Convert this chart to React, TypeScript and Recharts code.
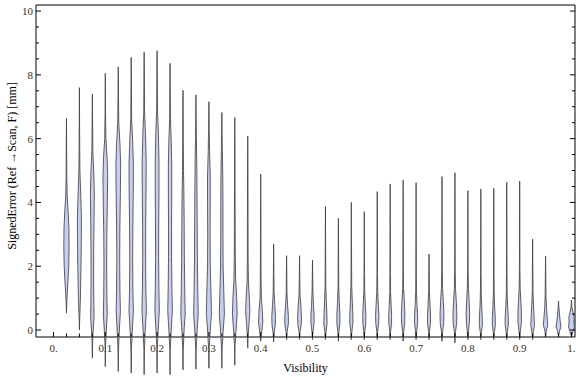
import React from 'react';
import { ComposedChart, Scatter, XAxis, YAxis } from 'recharts';

// ---- data ----
const visibility = [
  0.025, 0.05, 0.075, 0.1, 0.125, 0.15, 0.175, 0.2, 0.225, 0.25,
  0.275, 0.3, 0.325, 0.35, 0.375, 0.4, 0.425, 0.45, 0.475, 0.5,
  0.525, 0.55, 0.575, 0.6, 0.625, 0.65, 0.675, 0.7, 0.725, 0.75,
  0.775, 0.8, 0.825, 0.85, 0.875, 0.9, 0.925, 0.95, 0.975, 1.0,
];

const errorMin = [
  0.53, 0.0, -0.88, -1.15, -1.3, -1.35, -1.4, -1.35, -1.4, -1.25,
  -1.23, -1.2, -1.2, -1.1, -0.57, -0.35, -0.37, -0.3, -0.3, -0.3,
  -0.3, -0.35, -0.3, -0.3, -0.3, -0.3, -0.35, -0.3, -0.3, -0.35,
  -0.4, -0.3, -0.3, -0.3, -0.3, -0.3, -0.3, -0.2, -0.2, -0.2,
];

const errorMax = [
  6.63, 7.6, 7.4, 8.05, 8.25, 8.55, 8.72, 8.76, 8.36, 7.52,
  7.37, 7.16, 6.82, 6.66, 6.08, 4.89, 2.7, 2.33, 2.33, 2.19,
  3.87, 3.5, 4.0, 3.71, 4.34, 4.58, 4.7, 4.62, 2.38, 4.81,
  4.93, 4.37, 4.42, 4.44, 4.63, 4.67, 2.85, 2.32, 0.91, 0.94,
];

// density knots per violin: [error value, density]
const densityKnots: number[][][] = [
  [[1.0, 0.6], [1.5, 1.7], [2.0, 2.7], [2.6, 3.1], [3.2, 2.9], [3.7, 2.0], [4.2, 0.9], [4.8, 0.4], [5.6, 0.25]],
  [[0.4, 0.4], [1.0, 1.2], [2.0, 1.9], [3.0, 2.3], [3.6, 2.3], [4.3, 1.5], [5.0, 0.6], [6.0, 0.3]],
  [[-0.4, 0.3], [0, 1.0], [0.4, 2.0], [0.8, 1.8], [1.5, 1.5], [2.5, 1.6], [3.5, 2.0], [4.3, 2.3], [5.0, 1.6], [5.6, 0.6], [6.5, 0.3]],
  [[-0.5, 0.3], [0, 1.2], [0.5, 2.3], [1.0, 1.9], [2.0, 1.6], [3.0, 1.8], [4.0, 2.4], [4.8, 2.8], [5.4, 2.1], [6.0, 0.7], [6.8, 0.3]],
  [[-0.6, 0.3], [0, 1.3], [0.6, 2.5], [1.2, 2.0], [2.2, 1.7], [3.2, 1.9], [4.3, 2.5], [5.2, 2.8], [5.9, 1.9], [6.5, 0.6], [7.3, 0.3]],
  [[-0.6, 0.3], [0, 1.3], [0.6, 2.6], [1.2, 2.0], [2.2, 1.7], [3.2, 1.9], [4.3, 2.4], [5.2, 2.6], [6.0, 1.6], [6.6, 0.5], [7.5, 0.3]],
  [[-0.6, 0.3], [0, 1.3], [0.6, 2.6], [1.3, 2.0], [2.3, 1.7], [3.3, 1.8], [4.3, 2.2], [5.3, 2.4], [6.2, 1.5], [6.8, 0.5], [7.7, 0.3]],
  [[-0.6, 0.3], [0, 1.3], [0.6, 2.6], [1.3, 2.1], [2.3, 1.8], [3.3, 1.9], [4.3, 2.2], [5.3, 2.2], [6.2, 1.5], [6.9, 0.5], [7.8, 0.3]],
  [[-0.6, 0.3], [0, 1.4], [0.6, 2.7], [1.3, 2.2], [2.3, 1.8], [3.3, 1.8], [4.3, 2.0], [5.2, 2.0], [6.0, 1.3], [6.6, 0.5], [7.4, 0.3]],
  [[-0.6, 0.3], [0, 1.3], [0.5, 2.6], [1.2, 2.1], [2.2, 1.6], [3.2, 1.4], [4.2, 1.1], [5.0, 0.6], [5.8, 0.35], [6.6, 0.25]],
  [[-0.6, 0.3], [0, 1.4], [0.5, 2.7], [1.2, 2.2], [2.2, 1.7], [3.2, 1.5], [4.2, 1.3], [5.2, 1.0], [6.0, 0.5], [6.6, 0.3]],
  [[-0.6, 0.3], [0, 1.6], [0.5, 3.0], [1.1, 2.5], [2.0, 1.6], [3.0, 1.4], [4.0, 1.6], [4.8, 1.6], [5.6, 0.8], [6.3, 0.35]],
  [[-0.6, 0.3], [0, 1.6], [0.5, 3.0], [1.1, 2.4], [2.0, 1.5], [3.0, 1.3], [4.0, 1.3], [4.8, 1.1], [5.6, 0.6], [6.2, 0.3]],
  [[-0.5, 0.3], [0, 1.5], [0.5, 2.8], [1.0, 2.2], [1.6, 1.0], [2.3, 0.6], [3.2, 0.45], [4.5, 0.35], [5.5, 0.3]],
  [[-0.2, 0.4], [0.2, 1.5], [0.6, 2.5], [1.0, 1.9], [1.5, 0.8], [2.2, 0.45], [3.5, 0.35], [5.0, 0.25]],
  [[-0.1, 1.0], [0.25, 2.5], [0.6, 2.0], [1.0, 0.8], [1.6, 0.4], [3.0, 0.3]],
  [[-0.1, 0.6], [0.15, 1.9], [0.4, 2.2], [0.8, 1.3], [1.2, 0.5], [1.8, 0.3]],
  [[-0.05, 0.7], [0.2, 2.1], [0.45, 2.1], [0.8, 1.1], [1.2, 0.4], [1.7, 0.3]],
  [[-0.05, 0.6], [0.15, 1.9], [0.4, 2.3], [0.75, 1.6], [1.1, 0.6], [1.6, 0.3]],
  [[-0.05, 0.6], [0.2, 1.8], [0.45, 1.9], [0.8, 1.1], [1.2, 0.5], [1.6, 0.3]],
  [[-0.05, 0.7], [0.2, 1.9], [0.5, 1.7], [0.9, 1.0], [1.4, 0.4], [2.0, 0.3]],
  [[-0.05, 0.6], [0.2, 1.8], [0.5, 1.8], [0.9, 1.0], [1.4, 0.4], [2.0, 0.3]],
  [[-0.05, 0.6], [0.2, 1.8], [0.5, 1.8], [0.9, 1.1], [1.4, 0.45], [2.0, 0.3]],
  [[-0.05, 0.5], [0.2, 1.7], [0.45, 1.9], [0.8, 1.2], [1.2, 0.55], [1.8, 0.3]],
  [[-0.05, 0.5], [0.2, 1.7], [0.45, 2.0], [0.8, 1.3], [1.2, 0.55], [1.8, 0.3]],
  [[-0.05, 0.5], [0.2, 1.6], [0.45, 1.7], [0.8, 1.1], [1.2, 0.45], [1.8, 0.3]],
  [[-0.05, 0.6], [0.2, 1.8], [0.5, 2.1], [0.9, 1.4], [1.3, 0.55], [1.9, 0.3]],
  [[-0.05, 0.6], [0.2, 1.8], [0.45, 1.8], [0.8, 1.05], [1.2, 0.45], [1.8, 0.3]],
  [[-0.05, 0.5], [0.2, 1.7], [0.45, 1.8], [0.8, 1.1], [1.2, 0.45], [1.7, 0.3]],
  [[-0.05, 0.7], [0.2, 2.0], [0.5, 2.3], [0.9, 1.6], [1.3, 0.7], [1.9, 0.3]],
  [[-0.05, 0.7], [0.2, 2.0], [0.5, 2.3], [0.9, 1.6], [1.3, 0.7], [1.9, 0.3]],
  [[-0.05, 0.7], [0.2, 1.7], [0.5, 2.1], [0.9, 1.5], [1.3, 0.7], [1.9, 0.3]],
  [[-0.05, 0.7], [0.15, 1.8], [0.4, 1.7], [0.75, 0.95], [1.2, 0.45], [1.8, 0.3]],
  [[-0.05, 0.7], [0.15, 1.8], [0.4, 1.7], [0.75, 0.95], [1.2, 0.45], [1.8, 0.3]],
  [[-0.05, 0.7], [0.15, 1.9], [0.4, 1.8], [0.75, 1.05], [1.2, 0.45], [1.8, 0.3]],
  [[-0.05, 0.7], [0.2, 1.9], [0.5, 2.1], [0.9, 1.4], [1.3, 0.6], [1.9, 0.3]],
  [[-0.05, 0.9], [0.15, 2.2], [0.45, 1.7], [0.8, 0.95], [1.2, 0.45], [1.8, 0.3]],
  [[0.0, 1.0], [0.15, 2.6], [0.4, 1.9], [0.7, 1.05], [1.1, 0.45], [1.6, 0.3]],
  [[-0.02, 1.3], [0.1, 2.9], [0.3, 1.9], [0.5, 1.1], [0.7, 0.45]],
  [[-0.05, 1.8], [0.1, 3.5], [0.25, 2.8], [0.4, 3.1], [0.55, 1.8], [0.7, 0.55]],
];

// axis ticks
const xMajorTicks = [0, 0.1, 0.2, 0.3, 0.4, 0.5, 0.6, 0.7, 0.8, 0.9, 1.0];
const xMinorTicks = visibility;
const xTopTicks = [0, 0.05, 0.1, 0.15, 0.2, 0.25, 0.3, 0.35, 0.4, 0.45, 0.5, 0.55, 0.6, 0.65, 0.7, 0.75, 0.8, 0.85, 0.9, 0.95, 1.0];
const yMajorTicks = [0, 2, 4, 6, 8, 10];
const yMinorTicks = [0.5, 1, 1.5, 2.5, 3, 3.5, 4.5, 5, 5.5, 6.5, 7, 7.5, 8.5, 9, 9.5];

// ---- layout / style ----
const X_DOMAIN: [number, number] = [-0.0338, 1.0068];
const Y_DOMAIN: [number, number] = [-0.219, 10.19];
const DENSITY_TO_X = 1 / 610;
const FILL = '#c8cef2';
const EDGE = '#454545';
const TICK_TEXT = '#3a3020';
const FONT = '"Liberation Serif", "Times New Roman", serif';

const allX = [...xMajorTicks, ...xMinorTicks].sort((a, b) => a - b);
const xTicksBottom = allX.filter((v, i) => i === 0 || Math.abs(v - allX[i - 1]) > 1e-9);
const yTicksAll = [...yMajorTicks, ...yMinorTicks].sort((a, b) => a - b);

const isMajorX = (v: number) => xMajorTicks.some((m) => Math.abs(m - v) < 1e-9);
const isMajorY = (v: number) => yMajorTicks.some((m) => Math.abs(m - v) < 1e-9);
const fmtX = (v: number) => (Math.abs(v) < 1e-9 ? '0.' : Math.abs(v - 1) < 1e-9 ? '1.' : v.toFixed(1));

const violins = visibility.map((c, i) => {
  const prof = [[errorMin[i], 0], ...densityKnots[i], [errorMax[i], 0]];
  const right = prof.map(([v, d]) => ({ x: c + d * DENSITY_TO_X, y: v }));
  const left = prof
    .slice()
    .reverse()
    .map(([v, d]) => ({ x: c - d * DENSITY_TO_X, y: v }));
  return [...right, ...left.slice(1)];
});

const violinOutline = (p: any) => {
  const pts = (p.points || []).filter((q: any) => q && Number.isFinite(q.x) && Number.isFinite(q.y));
  if (!pts.length) return <g />;
  const d = 'M' + pts.map((q: any) => `${q.x.toFixed(2)},${q.y.toFixed(2)}`).join('L') + 'Z';
  return <path d={d} fill={FILL} stroke={EDGE} strokeWidth={0.85} strokeLinejoin="round" />;
};

const noPoint = () => <g />;

const BottomTick = (props: any) => {
  const { x, y, payload } = props;
  const v = payload.value as number;
  const major = isMajorX(v);
  return (
    <g>
      <line x1={x} y1={y} x2={x} y2={y - (major ? 5 : 3.5)} stroke="#000" strokeWidth={1} />
      {major && (
        <text x={x} y={y + 15} textAnchor="middle" fontFamily={FONT} fontSize={11} fill={TICK_TEXT}>
          {fmtX(v)}
        </text>
      )}
    </g>
  );
};

const TopTick = (props: any) => {
  const { x, y, payload } = props;
  const major = isMajorX(payload.value);
  return <line x1={x} y1={y} x2={x} y2={y + (major ? 4 : 2.5)} stroke="#000" strokeWidth={1} />;
};

const LeftTick = (props: any) => {
  const { x, y, payload } = props;
  const v = payload.value as number;
  const major = isMajorY(v);
  return (
    <g>
      <line x1={x} y1={y} x2={x + (major ? 5 : 3)} y2={y} stroke="#000" strokeWidth={1} />
      {major && (
        <text x={x - 3} y={y + 4} textAnchor="end" fontFamily={FONT} fontSize={11} fill={TICK_TEXT}>
          {String(v)}
        </text>
      )}
    </g>
  );
};

const RightTick = (props: any) => {
  const { x, y, payload } = props;
  const major = isMajorY(payload.value);
  return <line x1={x} y1={y} x2={x - (major ? 5 : 3)} y2={y} stroke="#000" strokeWidth={1} />;
};

const YLabel = (props: any) => {
  const vb = props.viewBox || { x: 0, y: 0, width: 36, height: 332 };
  const cx = vb.x + 12;
  const cy = vb.y + vb.height / 2 - 5;
  return (
    <text
      x={0}
      y={0}
      transform={`translate(${cx},${cy}) rotate(-90)`}
      textAnchor="middle"
      dominantBaseline="central"
      fontFamily={FONT}
      fontSize={12}
      fill="#000"
    >
      SignedError (Ref →Scan, F) [mm]
    </text>
  );
};

const XLabel = (props: any) => {
  const vb = props.viewBox || { x: 36, y: 337, width: 539, height: 40 };
  return (
    <text x={vb.x + vb.width / 2} y={vb.y + 35} textAnchor="middle" fontFamily={FONT} fontSize={12} fill="#000">
      Visibility
    </text>
  );
};

export default function App() {
  return (
    <div style={{ width: 576, height: 377, background: '#fff' }}>
      <style>{'body{margin:0;} .recharts-scatter{clip-path:none !important;}'}</style>
      <ComposedChart width={576} height={377} margin={{ top: 0, right: 0, bottom: 0, left: 0 }}>
        <XAxis
          type="number"
          dataKey="x"
          domain={X_DOMAIN}
          allowDataOverflow
          ticks={xTicksBottom}
          interval={0}
          tickSize={0}
          tickMargin={0}
          tickLine={false}
          axisLine={{ stroke: '#000', strokeWidth: 1 }}
          height={40}
          tick={<BottomTick />}
          label={{ content: <XLabel /> } as any}
        />
        <XAxis
          xAxisId="top"
          orientation="top"
          type="number"
          domain={X_DOMAIN}
          allowDataOverflow
          ticks={xTopTicks}
          interval={0}
          tickSize={0}
          tickMargin={0}
          tickLine={false}
          axisLine={{ stroke: '#000', strokeWidth: 1 }}
          height={5}
          tick={<TopTick />}
        />
        <YAxis
          type="number"
          dataKey="y"
          domain={Y_DOMAIN}
          allowDataOverflow
          ticks={yTicksAll}
          interval={0}
          tickSize={0}
          tickMargin={0}
          tickLine={false}
          axisLine={{ stroke: '#000', strokeWidth: 1 }}
          width={36}
          tick={<LeftTick />}
          label={{ content: <YLabel /> } as any}
        />
        <YAxis
          yAxisId="right"
          orientation="right"
          type="number"
          domain={Y_DOMAIN}
          allowDataOverflow
          ticks={yTicksAll}
          interval={0}
          tickSize={0}
          tickMargin={0}
          tickLine={false}
          axisLine={{ stroke: '#000', strokeWidth: 1 }}
          width={1}
          tick={<RightTick />}
        />
        {violins.map((pts, i) => (
          <Scatter
            key={i}
            data={pts}
            dataKey="y"
            line={violinOutline}
            lineType="joint"
            shape={noPoint}
            fill={FILL}
            isAnimationActive={false}
          />
        ))}
      </ComposedChart>
    </div>
  );
}
